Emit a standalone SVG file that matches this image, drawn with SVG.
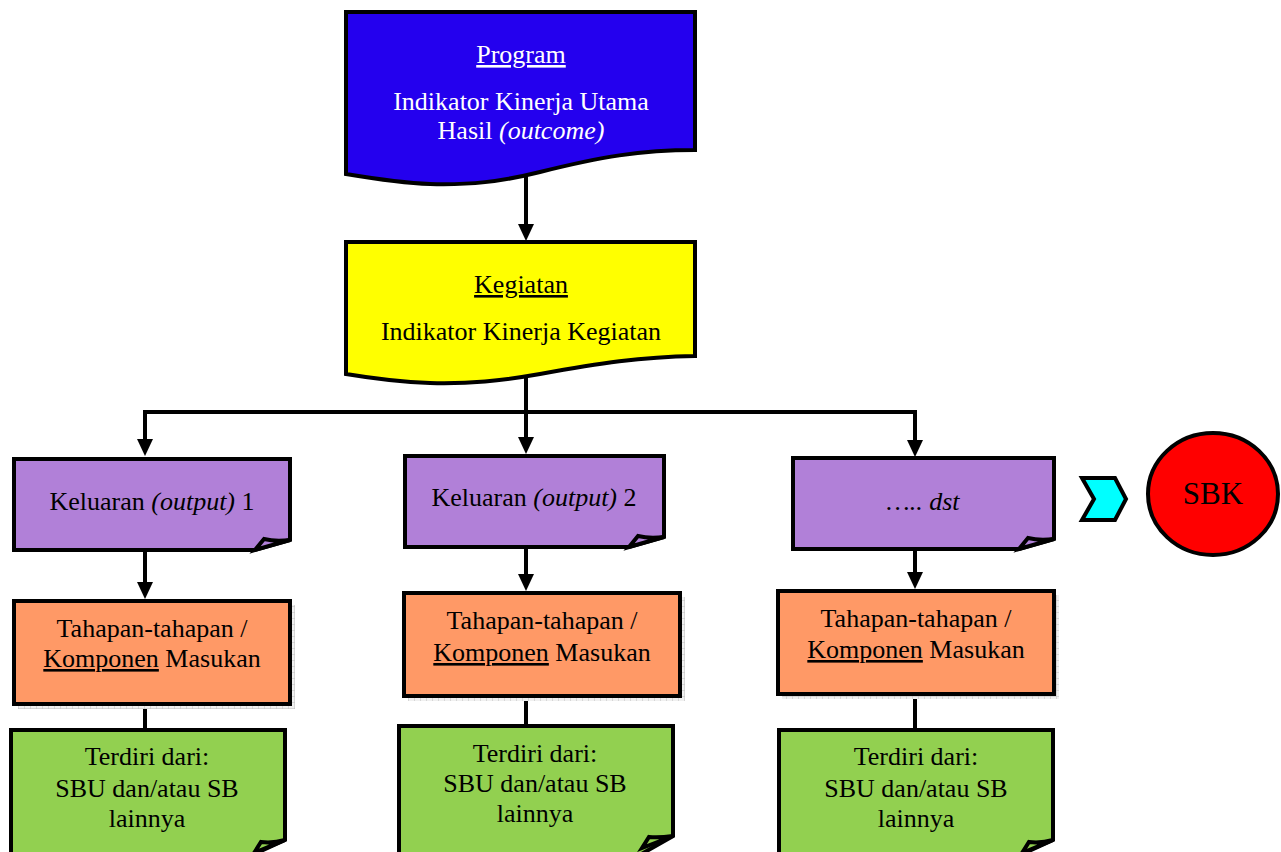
<svg xmlns="http://www.w3.org/2000/svg" width="1281" height="852" viewBox="0 0 1281 852">
<defs>
<pattern id="grid" width="6" height="6" patternUnits="userSpaceOnUse">
<rect width="6" height="6" fill="#f0f0f0"/>
<path d="M0 0H6M0 0V6" stroke="#bdbdbd" stroke-width="1" fill="none"/>
</pattern>
</defs>
<style>
.t{font-family:"Liberation Serif","Times New Roman",serif;font-size:26px;text-anchor:middle;fill:#000}
.w{fill:#fff}
.b{stroke:#000;stroke-width:4;stroke-linejoin:miter}
.ln{stroke:#000;stroke-width:4;fill:none}
.ah{fill:#000}
.u{text-decoration:underline}
.i{font-style:italic}
</style>
<rect width="1281" height="852" fill="#fff"/>
<g id="connectors">
<line class="ln" x1="526" y1="176" x2="526" y2="226"/>
<polygon class="ah" points="518,224 534,224 526,241"/>
<line class="ln" x1="526" y1="378" x2="526" y2="412"/>
<polyline class="ln" points="145,440 145,412 915,412 915,440"/>
<line class="ln" x1="526" y1="412" x2="526" y2="438"/>
<polygon class="ah" points="137,439 153,439 145,456"/>
<polygon class="ah" points="518,437 534,437 526,454"/>
<polygon class="ah" points="907,440 923,440 915,457"/>
<line class="ln" x1="145" y1="550" x2="145" y2="584"/>
<polygon class="ah" points="137,582 153,582 145,599"/>
<line class="ln" x1="526" y1="547" x2="526" y2="576"/>
<polygon class="ah" points="518,574 534,574 526,591"/>
<line class="ln" x1="915" y1="550" x2="915" y2="574"/>
<polygon class="ah" points="907,572 923,572 915,589"/>
<line class="ln" x1="145" y1="705" x2="145" y2="730"/>
<line class="ln" x1="526" y1="696" x2="526" y2="726"/>
<line class="ln" x1="915" y1="694" x2="915" y2="730"/>
</g>
<g id="program">
<path class="b" fill="#2400ee" d="M346,12 H695 V150 C640,150 600,157 540,172 C500,182 470,185 430,184 C400,183 370,178 346,174 Z"/>
<text class="t w u" x="521" y="63">Program</text>
<text class="t w" x="521" y="110">Indikator Kinerja Utama</text>
<text class="t w" x="521" y="139">Hasil <tspan class="i">(outcome)</tspan></text>
</g>
<g id="kegiatan">
<path class="b" fill="#ffff00" d="M346,242 H695 V356 C640,357 600,363 540,374 C500,381 470,384 430,383 C400,382 370,378 346,374 Z"/>
<text class="t u" x="521" y="293">Kegiatan</text>
<text class="t" x="521" y="340">Indikator Kinerja Kegiatan</text>
</g>
<g id="keluaran1">
<path class="b" fill="#b180d8" d="M14,459 H290 V540 L255,550 H14 Z"/>
<path class="b" fill="#b180d8" stroke-width="3" d="M255,550 L264,539 C272,541 282,541 290,540 Z"/>
<text class="t" x="152" y="510">Keluaran <tspan class="i">(output)</tspan> 1</text>
</g>
<g id="keluaran2">
<path class="b" fill="#b180d8" d="M405,456 H664 V537 L629,547 H405 Z"/>
<path class="b" fill="#b180d8" stroke-width="3" d="M629,547 L638,536 C646,538 656,538 664,537 Z"/>
<text class="t" x="534" y="506">Keluaran <tspan class="i">(output)</tspan> 2</text>
</g>
<g id="keluaran3">
<path class="b" fill="#b180d8" d="M793,458 H1054 V539 L1019,549 H793 Z"/>
<path class="b" fill="#b180d8" stroke-width="3" d="M1019,549 L1028,538 C1036,540 1046,540 1054,539 Z"/>
<text class="t i" x="923" y="510">….. dst</text>
</g>
<g id="tahapan1">
<rect x="18" y="605" width="277" height="104" fill="url(#grid)"/>
<rect class="b" x="14" y="601" width="276" height="103" fill="#ff9966"/>
<text class="t" x="152" y="637">Tahapan-tahapan /</text>
<text class="t" x="152" y="667"><tspan class="u">Komponen</tspan> Masukan</text>
</g>
<g id="tahapan2">
<rect x="408" y="597" width="277" height="104" fill="url(#grid)"/>
<rect class="b" x="404" y="593" width="276" height="103" fill="#ff9966"/>
<text class="t" x="542" y="629">Tahapan-tahapan /</text>
<text class="t" x="542" y="661"><tspan class="u">Komponen</tspan> Masukan</text>
</g>
<g id="tahapan3">
<rect x="782" y="595" width="277" height="104" fill="url(#grid)"/>
<rect class="b" x="778" y="591" width="276" height="103" fill="#ff9966"/>
<text class="t" x="916" y="627">Tahapan-tahapan /</text>
<text class="t" x="916" y="658"><tspan class="u">Komponen</tspan> Masukan</text>
</g>
<g id="terdiri1">
<path class="b" fill="#92d050" d="M11,730 H285 V840 L250,856 H11 Z"/>
<path class="b" fill="#92d050" stroke-width="3" d="M254,853 L261,842 C270,843 278,842 285,840 Z"/>
<text class="t" x="147" y="765">Terdiri dari:</text>
<text class="t" x="147" y="797">SBU dan/atau SB</text>
<text class="t" x="147" y="827">lainnya</text>
</g>
<g id="terdiri2">
<path class="b" fill="#92d050" d="M399,726 H673 V836 L638,856 H399 Z"/>
<path class="b" fill="#92d050" stroke-width="3" d="M642,848 L649,837 C658,838 666,837 673,836 Z"/>
<text class="t" x="535" y="762">Terdiri dari:</text>
<text class="t" x="535" y="792">SBU dan/atau SB</text>
<text class="t" x="535" y="822">lainnya</text>
</g>
<g id="terdiri3">
<path class="b" fill="#92d050" d="M779,730 H1053 V840 L1018,856 H779 Z"/>
<path class="b" fill="#92d050" stroke-width="3" d="M1022,853 L1029,842 C1038,843 1046,842 1053,840 Z"/>
<text class="t" x="916" y="765">Terdiri dari:</text>
<text class="t" x="916" y="797">SBU dan/atau SB</text>
<text class="t" x="916" y="827">lainnya</text>
</g>
<g id="chevron">
<polygon class="b" fill="#00ffff" points="1082,478 1115,478 1126,499 1115,520 1082,520 1094,499"/>
</g>
<g id="sbk">
<ellipse class="b" fill="#ff0000" cx="1213" cy="494" rx="65" ry="61"/>
<text class="t" x="1213" y="504" style="font-size:31px">SBK</text>
</g>
</svg>
